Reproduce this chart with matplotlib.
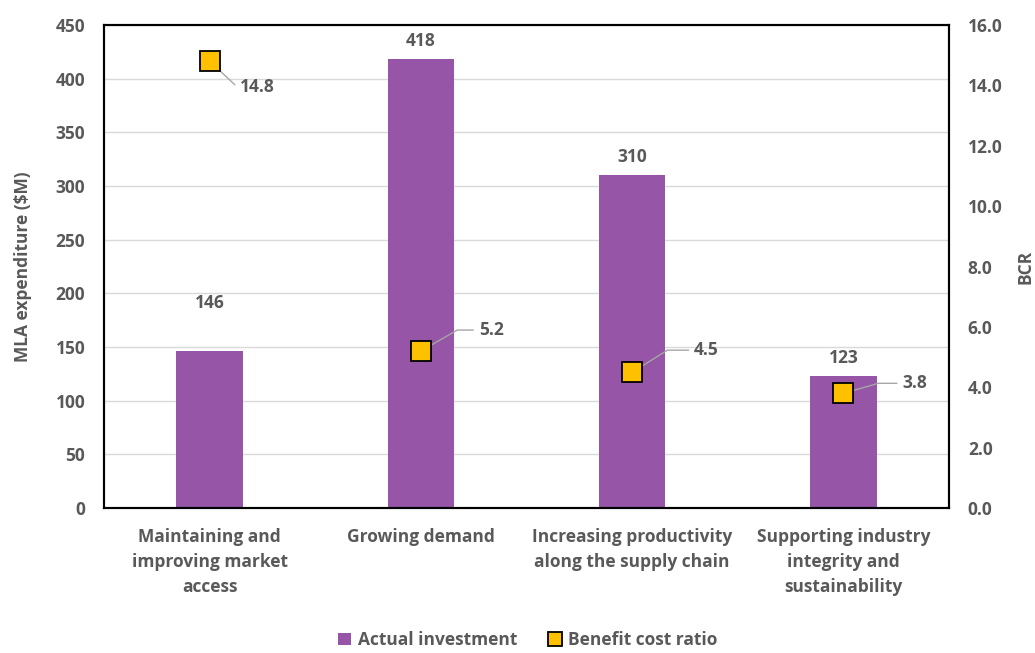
import matplotlib
matplotlib.use("Agg")
import matplotlib.pyplot as plt
from matplotlib.patches import Patch
from matplotlib.lines import Line2D

# MLA investment by program area and its benefit cost ratio
categories = [
    "Maintaining and\nimproving market\naccess",
    "Growing demand",
    "Increasing productivity\nalong the supply chain",
    "Supporting industry\nintegrity and\nsustainability",
]
investment = [146, 418, 310, 123]
bcr = [14.8, 5.2, 4.5, 3.8]

# label placement (pixels): bar value lift, BCR label offset and leader slope
bar_label_lift = [39, 9, 9, 9]
label_offsets = [(30, -26), (58, 21), (62, 22), (59, 10)]
leader_angles = [-43, 30, 32, 16]

plt.rcParams["font.family"] = ["Open Sans", "DejaVu Sans"]
plt.rcParams["font.weight"] = "bold"
text_col = "#595959"
bar_col = "#9655A7"
marker_col = "#FFC000"
fs = 12.5

fig = plt.figure(figsize=(10.35, 6.53), dpi=100)
ax = fig.add_axes([0.1005, 0.222, 0.8165, 0.7397])
ax2 = ax.twinx()

x = list(range(len(categories)))
ax.bar(x, investment, width=0.315, color=bar_col, zorder=2)
ax.set_xlim(-0.5, len(categories) - 0.5)
ax.set_ylim(0, 450)
ax.set_yticks(range(0, 451, 50))
ax.grid(axis="y", color="#d9d9d9", linewidth=1, zorder=0)
ax.set_axisbelow(True)

for xi, v, lift in zip(x, investment, bar_label_lift):
    ax.annotate(str(v), (xi, v), xytext=(0, lift), textcoords="offset pixels",
                ha="center", va="bottom", fontsize=fs, fontweight="bold",
                color=text_col)

ax2.set_ylim(0, 16)
ax2.set_yticks(range(0, 17, 2))
ax2.set_yticklabels([f"{t:.1f}" for t in range(0, 17, 2)])
ax2.plot(x, bcr, linestyle="none", marker="s", markersize=15,
         markerfacecolor=marker_col, markeredgecolor="black",
         markeredgewidth=1.3, zorder=5)

for xi, v, (dx, dy), ang in zip(x, bcr, label_offsets, leader_angles):
    ax2.annotate(f"{v:.1f}", (xi, v), xytext=(dx, dy), textcoords="offset pixels",
                 ha="left", va="center", fontsize=fs, fontweight="bold",
                 color=text_col, zorder=4,
                 arrowprops=dict(arrowstyle="-", color="#a6a6a6", lw=1,
                                 shrinkA=2, shrinkB=0,
                                 connectionstyle=f"angle,angleA=0,angleB={ang},rad=0"))

ax.set_xticks(x)
ax.set_xticklabels(categories, fontsize=fs, fontweight="bold", color=text_col,
                   linespacing=1.5)
ax.set_ylabel("MLA expenditure ($M)", fontsize=fs, fontweight="bold",
              color=text_col, labelpad=17)
ax2.set_ylabel("BCR", fontsize=fs, fontweight="bold", color=text_col, labelpad=10)

for a in (ax, ax2):
    a.tick_params(length=0, labelsize=fs, labelcolor=text_col, pad=13.5)
    for s in a.spines.values():
        s.set_color("black")
        s.set_linewidth(1.5)
ax.tick_params(axis="x", pad=14.5)

handles = [
    Patch(facecolor=bar_col, edgecolor="none", label="Actual investment"),
    Line2D([], [], linestyle="none", marker="s", markersize=10,
           markerfacecolor=marker_col, markeredgecolor="black",
           markeredgewidth=1.3, label="Benefit cost ratio"),
]
leg = fig.legend(handles=handles, loc="lower center", ncol=2,
                 bbox_to_anchor=(0.51, -0.018), frameon=False,
                 handlelength=0.75, handleheight=0.7, handletextpad=0.4,
                 columnspacing=1.8, prop={"weight": "bold", "size": fs})
for t in leg.get_texts():
    t.set_color(text_col)

fig.savefig("out.png", dpi=100)
